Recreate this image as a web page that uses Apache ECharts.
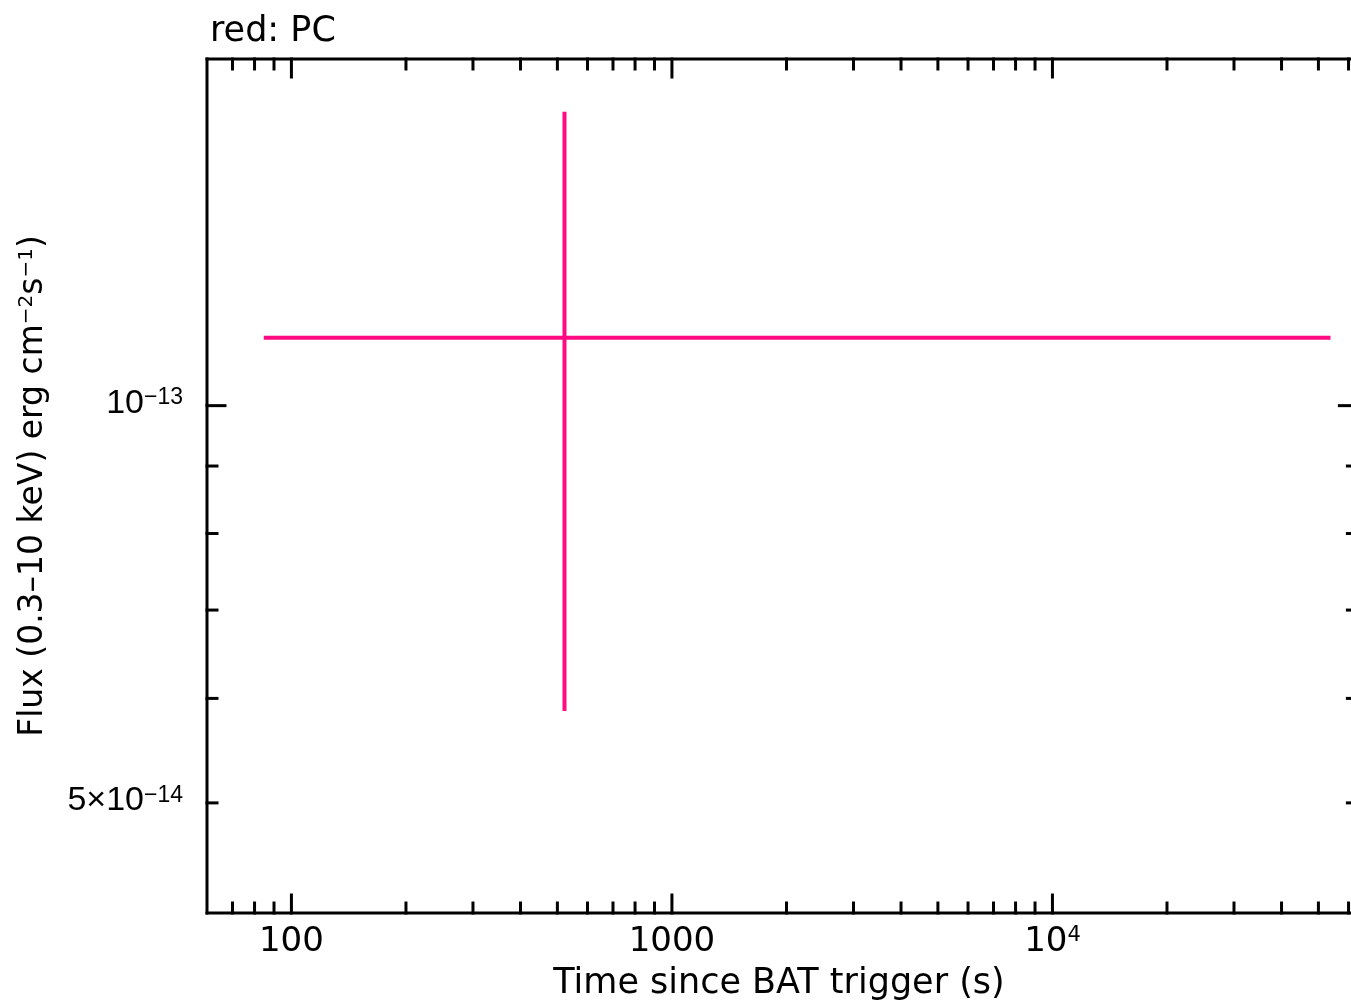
<!DOCTYPE html>
<html>
<head>
<meta charset="UTF-8">
<title>Swift XRT light curve</title>
<script src="https://cdn.jsdelivr.net/npm/echarts@6/dist/echarts.min.js"></script>
<style>
  html, body { margin: 0; padding: 0; background: #fff; }
  #chart { width: 1351px; height: 1006px; }
</style>
</head>
<body>
<div id="chart"></div>
<script>
// data point (PC mode)
const time = [522];
const timeLo = [84.6];
const timeHi = [53800];
const flux = [1.126e-13];
const fluxLo = [5.87e-14];
const fluxHi = [1.67e-13];

// visible axis ranges; the plot frame itself ends a little past the right edge
const xRange = [60, 60900];
const xFrameMax = 63300;
const yRange = [4.126e-14, 1.831e-13];

// ticks and labels ('^' splits base and superscript)
const xMajor = [100, 1000, 10000];
const xMinor = [70, 80, 90, 200, 300, 400, 500, 600, 700, 800, 900,
  2000, 3000, 4000, 5000, 6000, 7000, 8000, 9000, 20000, 30000, 40000, 50000, 60000];
const xLabelText = ['100', '1000', '10^4'];
const yMajor = [1e-13];
const yMinor = [5e-14, 6e-14, 7e-14, 8e-14, 9e-14];
const yLabelValues = [1e-13, 5e-14];
const yLabelText = ['10^−13', '5×10^−14'];

const SANS = 'DejaVu Sans';
const ARIAL = 'Liberation Sans';
const PINK = '#ff0a80';
const MAJ = 18, MIN = 10;

const chart = echarts.init(document.getElementById('chart'));

function line(x1, y1, x2, y2, color, w) {
  return { type: 'line', shape: { x1, y1, x2, y2 }, style: { stroke: color, lineWidth: w, lineCap: 'square' } };
}

function supText(s) {
  const p = s.split('^');
  return '{a|' + p[0] + '}' + (p[1] ? '{s|' + p[1] + '}' : '');
}

function rich(font, size, supSize) {
  return {
    a: { fontSize: size, fontFamily: font, lineHeight: size, color: '#000' },
    s: { fontSize: supSize, fontFamily: font, lineHeight: supSize, verticalAlign: 'top', color: '#000' }
  };
}

function renderFrame(params, api) {
  const kids = [];
  const yb = api.coord([xRange[0], yRange[0]])[1];
  const yt = api.coord([xRange[0], yRange[1]])[1];
  const xl = api.coord([xRange[0], yRange[0]])[0];
  const xr = api.coord([xFrameMax, yRange[0]])[0];
  // box
  kids.push(line(xl, yb, xr, yb, '#000', 3));
  kids.push(line(xl, yt, xr, yt, '#000', 3));
  kids.push(line(xl, yt, xl, yb, '#000', 3));
  kids.push(line(xr, yt, xr, yb, '#000', 3));
  xMajor.concat(xMinor).forEach(v => {
    const len = xMajor.includes(v) ? MAJ : MIN;
    const x = api.coord([v, yRange[0]])[0];
    kids.push(line(x, yb, x, yb - len, '#000', 3));
    kids.push(line(x, yt, x, yt + len, '#000', 3));
  });
  yMajor.concat(yMinor).forEach(v => {
    const len = yMajor.includes(v) ? MAJ : MIN;
    const y = api.coord([xRange[0], v])[1];
    kids.push(line(xl, y, xl + len, y, '#000', 3));
    kids.push(line(xr, y, xr - len, y, '#000', 3));
  });
  xMajor.forEach((v, i) => {
    const x = api.coord([v, yRange[0]])[0];
    kids.push({
      type: 'text', x: x, y: yb + 12,
      style: { text: supText(xLabelText[i]), rich: rich(SANS, 34, 21), align: 'center', verticalAlign: 'top' }
    });
  });
  yLabelValues.forEach((v, i) => {
    const y = api.coord([xRange[0], v])[1];
    kids.push({
      type: 'text', x: xl - 24, y: y - 2,
      style: { text: supText(yLabelText[i]), rich: rich(ARIAL, 34, 23), align: 'right', verticalAlign: 'middle' }
    });
  });
  return { type: 'group', children: kids };
}

function renderErrorBar(params, api) {
  const c = api.coord([api.value(0), api.value(1)]);
  const l = api.coord([api.value(2), api.value(1)]);
  const r = api.coord([api.value(3), api.value(1)]);
  const lo = api.coord([api.value(0), api.value(4)]);
  const hi = api.coord([api.value(0), api.value(5)]);
  const bar = (x1, y1, x2, y2) => ({ type: 'line', shape: { x1, y1, x2, y2 }, style: { stroke: PINK, lineWidth: 4 } });
  return {
    type: 'group',
    children: [bar(l[0], c[1], r[0], c[1]), bar(c[0], lo[1], c[0], hi[1])]
  };
}

const option = {
  animation: false,
  backgroundColor: '#fff',
  title: {
    text: 'red: PC',
    left: 205, top: 9,
    textStyle: { fontFamily: SANS, fontSize: 35, fontWeight: 'normal', color: '#000' }
  },
  grid: { left: 207, top: 59, right: 0, bottom: 91, show: false },
  xAxis: {
    type: 'log', logBase: 10, min: xRange[0], max: xRange[1],
    axisLine: { show: false }, axisTick: { show: false }, axisLabel: { show: false },
    splitLine: { show: false },
    name: 'Time since BAT trigger (s)', nameLocation: 'middle', nameGap: 53,
    nameTextStyle: { fontFamily: SANS, fontSize: 35, color: '#000' }
  },
  yAxis: {
    type: 'log', logBase: 10, min: yRange[0], max: yRange[1],
    axisLine: { show: false }, axisTick: { show: false }, axisLabel: { show: false },
    splitLine: { show: false },
    name: '{a|Flux (0.3–10 keV) erg cm}{s|−2}{a|s}{s|−1}{a|)}',
    nameLocation: 'middle', nameGap: 157, nameRotate: 90,
    nameTextStyle: {
      fontFamily: SANS, fontSize: 33, color: '#000',
      rich: rich(SANS, 33, 20)
    }
  },
  series: [
    {
      type: 'custom', name: 'frame', clip: false, silent: true,
      renderItem: renderFrame,
      data: [[xMajor[1], yMajor[0]]], z: 5
    },
    {
      type: 'custom', name: 'PC', clip: false, silent: true,
      renderItem: renderErrorBar,
      encode: { x: [0, 2, 3], y: [1, 4, 5] },
      data: time.map((t, i) => [t, flux[i], timeLo[i], timeHi[i], fluxLo[i], fluxHi[i]]),
      z: 10
    }
  ]
};

chart.setOption(option);
</script>
</body>
</html>
